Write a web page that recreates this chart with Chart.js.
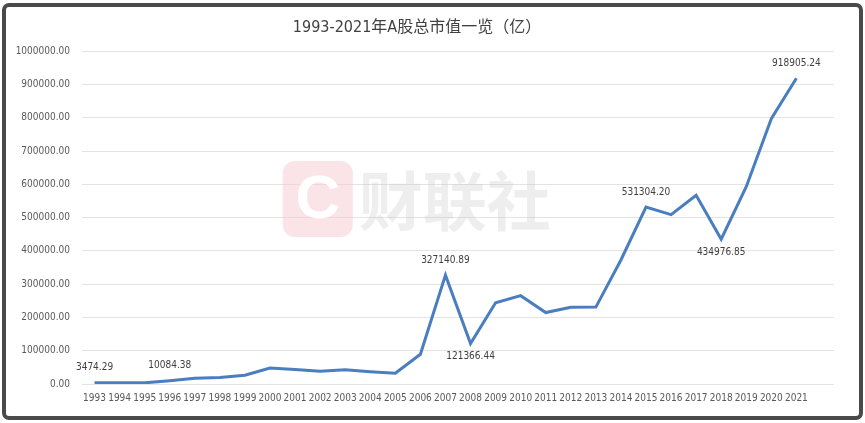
<!DOCTYPE html>
<html>
<head>
<meta charset="utf-8">
<script src="https://cdn.jsdelivr.net/npm/chart.js@4"></script>
<style>
  html, body { margin: 0; padding: 0; background: #ffffff; }
  #wrap { position: relative; width: 865px; height: 423px; box-sizing: border-box; }
  #frame { position: absolute; left: 2px; top: 3px; width: 861px; height: 417px; box-sizing: border-box;
           border: 4px solid #4a4a4a; border-radius: 7px; pointer-events: none; }
  canvas { position: absolute; left: 0; top: 0; }
</style>
</head>
<body>
<div id="wrap">
  <canvas id="c" width="865" height="423"></canvas>
  <div id="frame"></div>
</div>
<script>
const TITLE = '1993-2021年A股总市值一览（亿）';
const years = ['1993','1994','1995','1996','1997','1998','1999','2000','2001','2002','2003','2004','2005','2006','2007','2008','2009','2010','2011','2012','2013','2014','2015','2016','2017','2018','2019','2020','2021',''];
const marketCap = [3474.29, 3690, 3474, 10084.38, 17529, 19506, 26471, 48091, 43522, 38329, 42458, 37056, 32430, 89404, 327140.89, 121366.44, 243939, 265423, 214758, 230358, 230977, 372547, 531304.20, 508686, 567086, 434976.85, 592935, 797238, 918905.24, null];
const labelledYears = ['1993','1996','2007','2008','2015','2018','2021'];
const labelBelow = ['2008','2018'];
const yTicks = [0, 100000, 200000, 300000, 400000, 500000, 600000, 700000, 800000, 900000, 1000000];

const FONT = "'Liberation Sans Narrow', 'DejaVu Sans Condensed', 'Noto Sans CJK SC', sans-serif";

const watermark = {
  id: 'watermark',
  beforeDatasetsDraw(chart) {
    const ctx = chart.ctx;
    const a = chart.chartArea;
    const x0 = a.left + (a.right - a.left) * 0.267;
    const y0 = a.top + (a.bottom - a.top) * 0.33;
    ctx.save();
    ctx.globalAlpha = 0.5;
    ctx.fillStyle = '#f7c9cf';
    const w = 70, h = 76, r = 12;
    ctx.beginPath();
    ctx.moveTo(x0 + r, y0);
    ctx.arcTo(x0 + w, y0, x0 + w, y0 + h, r);
    ctx.arcTo(x0 + w, y0 + h, x0, y0 + h, r);
    ctx.arcTo(x0, y0 + h, x0, y0, r);
    ctx.arcTo(x0, y0, x0 + w, y0, r);
    ctx.closePath();
    ctx.fill();
    ctx.globalAlpha = 1;
    ctx.fillStyle = '#ffffff';
    ctx.font = "bold 62px 'Liberation Sans', sans-serif";
    ctx.textAlign = 'center';
    ctx.textBaseline = 'middle';
    ctx.fillText('C', x0 + w / 2, y0 + h / 2 + 2);
    ctx.fillStyle = 'rgba(200,200,200,0.3)';
    ctx.font = "bold 64px 'Noto Sans CJK SC', sans-serif";
    ctx.textAlign = 'left';
    ctx.fillText('财联社', x0 + w + 6, y0 + h / 2 + 2);
    ctx.restore();
  }
};

const dataLabels = {
  id: 'dataLabels',
  afterDatasetsDraw(chart) {
    const ctx = chart.ctx;
    const meta = chart.getDatasetMeta(0);
    ctx.save();
    ctx.font = "10px " + FONT;
    ctx.fillStyle = '#404040';
    ctx.textAlign = 'center';
    ctx.textBaseline = 'middle';
    labelledYears.forEach(y => {
      const i = years.indexOf(y);
      const pt = meta.data[i];
      const below = labelBelow.includes(y);
      ctx.fillText(marketCap[i].toFixed(2), pt.x, pt.y + (below ? 13 : -15));
    });
    ctx.restore();
  }
};

new Chart(document.getElementById('c'), {
  type: 'line',
  data: {
    labels: years,
    datasets: [{
      data: marketCap,
      borderColor: '#4a7ebf',
      borderWidth: 3,
      pointRadius: 0,
      tension: 0,
      fill: false
    }]
  },
  options: {
    responsive: false,
    animation: false,
    layout: { padding: { left: 0, right: 31, top: 0, bottom: 11 } },
    plugins: {
      legend: { display: false },
      tooltip: { enabled: false },
      title: {
        display: true,
        text: TITLE,
        color: '#404040',
        font: { family: FONT, size: 16, weight: 'normal' },
        padding: { top: 18, bottom: 14 }
      }
    },
    scales: {
      x: {
        offset: true,
        grid: { display: false, drawTicks: false },
        border: { display: false },
        ticks: { color: '#595959', font: { family: FONT, size: 10 }, maxRotation: 0, autoSkip: false, padding: 8 }
      },
      y: {
        min: 0,
        max: 1000000,
        afterFit(scale) { scale.width = 82; },
        afterBuildTicks(scale) { scale.ticks = yTicks.map(v => ({ value: v })); },
        grid: { color: '#e3e3e3', lineWidth: 1, drawTicks: false },
        border: { display: false },
        ticks: {
          color: '#595959',
          font: { family: FONT, size: 10 },
          padding: 12,
          callback: v => Number(v).toFixed(2)
        }
      }
    }
  },
  plugins: [watermark, dataLabels]
});
</script>
</body>
</html>
